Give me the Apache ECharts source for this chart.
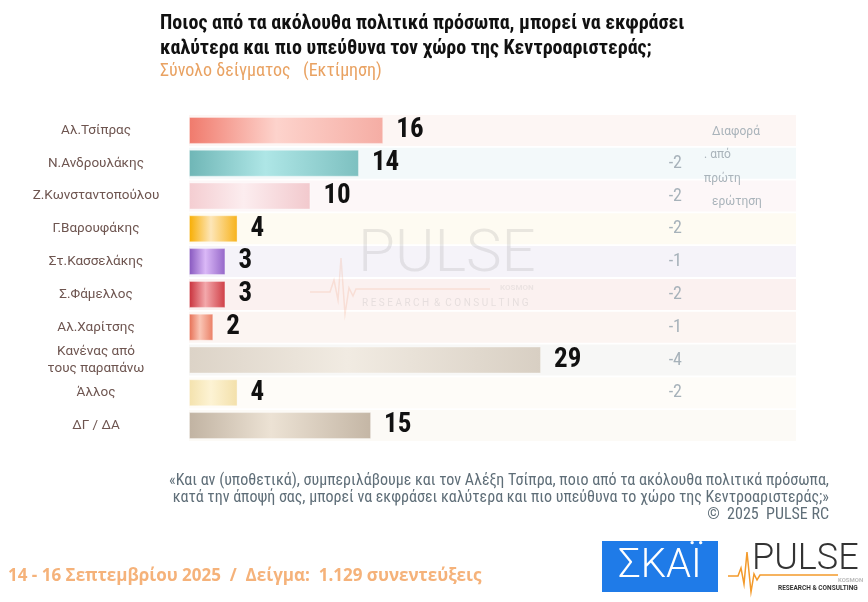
<!DOCTYPE html>
<html>
<head>
<meta charset="utf-8">
<script src="https://cdn.jsdelivr.net/npm/echarts@6/dist/echarts.min.js"></script>
<style>
  html, body { margin: 0; padding: 0; background: #fff; }
  #chart { width: 868px; height: 602px; }
</style>
</head>
<body>
<div id="chart"></div>
<script>
// δεδομένα
const categories = ['Αλ.Τσίπρας', 'Ν.Ανδρουλάκης', 'Ζ.Κωνσταντοπούλου', 'Γ.Βαρουφάκης', 'Στ.Κασσελάκης',
  'Σ.Φάμελλος', 'Αλ.Χαρίτσης', 'Κανένας από\nτους παραπάνω', 'Άλλος', 'ΔΓ / ΔΑ']
const values = [16, 14, 10, 4, 3, 3, 2, 29, 4, 15]
const diffs = ['', '-2', '-2', '-2', '-1', '-2', '-1', '-4', '-2', '']
const fullScale = [50, 50, 50, 50, 50, 50, 50, 50, 50, 50]

// χρώματα μπαρών (άκρη, κέντρο, άκρη)
const barColors = [
  ['#f07a6c', '#fdd3cc', '#f5ada4'],
  ['#6fb6b6', '#aee6e6', '#7dc0c0'],
  ['#f4cdd1', '#fcedef', '#f2c9cd'],
  ['#f8ad00', '#fde6b8', '#f7b21a'],
  ['#8656be', '#dab8f7', '#9466c8'],
  ['#c8303a', '#f3a8ab', '#cf3d45'],
  ['#e66d52', '#fac6b6', '#ea7d63'],
  ['#dcd3c7', '#f1ebe2', '#d8cfc3'],
  ['#f4e2ad', '#fdf3d4', '#f3e0aa'],
  ['#c1b3a2', '#ece2d4', '#c4b6a5']
]
const rowColors = ['#fdf6f4', '#f3f9fa', '#fdf7f8', '#fefbf2', '#f5f3f9', '#fbf1f0', '#fcf5f2', '#f7f7f6', '#fefcf8', '#fcfaf6']

const condensed = "'Liberation Sans Narrow', 'Roboto Condensed', 'DejaVu Sans Condensed', 'Roboto', sans-serif"

const barData = values.map((v, i) => ({
  value: v,
  itemStyle: {
    color: new echarts.graphic.LinearGradient(0, 0, 1, 0, [
      { offset: 0, color: barColors[i][0] },
      { offset: 0.45, color: barColors[i][1] },
      { offset: 1, color: barColors[i][2] }
    ]),
    borderColor: 'rgba(255,255,255,0.35)',
    borderWidth: 1
  }
}))

const bgData = fullScale.map((v, i) => ({
  value: v,
  itemStyle: { color: rowColors[i] }
}))

const chart = echarts.init(document.getElementById('chart'))

const wm = 'rgba(150,150,150,0.2)'

const option = {
  animation: false,
  backgroundColor: '#ffffff',
  grid: {
    left: 189,
    right: 72,
    top: 114,
    height: 328
  },
  xAxis: {
    type: 'value',
    min: 0,
    max: 50,
    show: false
  },
  yAxis: [
    {
      type: 'category',
      data: categories,
      inverse: true,
      axisLine: { show: false },
      axisTick: { show: false },
      axisLabel: {
        align: 'center',
        margin: 93,
        color: '#6e5550',
        fontFamily: 'Roboto, sans-serif',
        fontSize: 13.5,
        lineHeight: 17
      }
    },
    {
      type: 'category',
      data: categories,
      inverse: true,
      show: false
    }
  ],
  series: [
    {
      name: 'bg',
      type: 'bar',
      yAxisIndex: 1,
      barWidth: 31,
      data: bgData,
      silent: true,
      z: 1,
      label: {
        show: true,
        position: 'insideRight',
        distance: 114,
        formatter: (p) => diffs[p.dataIndex],
        color: '#a7b2ba',
        fontFamily: condensed,
        fontSize: 18
      }
    },
    {
      name: 'Εκτίμηση',
      type: 'bar',
      yAxisIndex: 0,
      barWidth: 27,
      data: barData,
      z: 3,
      label: {
        show: true,
        position: 'right',
        distance: 13,
        color: '#111111',
        fontFamily: condensed,
        fontWeight: 'bold',
        fontSize: 27
      }
    }
  ],
  graphic: [
    // τίτλος
    {
      type: 'text', left: 160, top: 11,
      style: {
        text: 'Ποιος από τα ακόλουθα πολιτικά πρόσωπα, μπορεί να εκφράσει\nκαλύτερα και πιο υπεύθυνα τον χώρο της Κεντροαριστεράς;',
        fill: '#111111', font: 'bold 20px ' + condensed, lineHeight: 25
      }
    },
    {
      type: 'text', left: 160, top: 62,
      style: {
        text: 'Σύνολο δείγματος   (Εκτίμηση)',
        fill: '#e9a262', font: '18px ' + condensed
      }
    },
    // Διαφορά
    { type: 'text', left: 712, top: 126, z: 10, style: { text: 'Διαφορά', fill: '#a9b3ba', font: '12px Roboto, sans-serif' } },
    { type: 'text', left: 704, top: 149, z: 10, style: { text: '. από', fill: '#a9b3ba', font: '12px Roboto, sans-serif' } },
    { type: 'text', left: 704, top: 173, z: 10, style: { text: 'πρώτη', fill: '#a9b3ba', font: '12px Roboto, sans-serif' } },
    { type: 'text', left: 712, top: 196, z: 10, style: { text: 'ερώτηση', fill: '#a9b3ba', font: '12px Roboto, sans-serif' } },
    // υδατογράφημα
    { type: 'text', x: 358, y: 226, z: 100, silent: true, style: { text: 'PULSE', fill: wm, font: '300 60px Roboto, sans-serif' } },
    { type: 'text', x: 362, y: 298, z: 100, silent: true, style: { text: 'R E S E A R C H  &  C O N S U L T I N G', fill: wm, font: '10px Roboto, sans-serif' } },
    { type: 'text', x: 500, y: 284, z: 100, silent: true, style: { text: 'KOSMON', fill: 'rgba(150,150,150,0.15)', font: 'bold 8px Roboto, sans-serif' } },
    {
      type: 'polyline', z: 100, silent: true,
      shape: { points: [[310, 292], [330, 292], [334, 280], [338, 300], [341, 258], [345, 314], [349, 288], [353, 296], [356, 289], [490, 289]] },
      style: { stroke: 'rgba(240,150,110,0.2)', lineWidth: 1.5, fill: null }
    },
    // υποσημείωση
    {
      type: 'text', x: 829, y: 472,
      style: {
        text: '«Και αν (υποθετικά), συμπεριλάβουμε και τον Αλέξη Τσίπρα, ποιο από τα ακόλουθα πολιτικά πρόσωπα,\nκατά την άποψή σας, μπορεί να εκφράσει καλύτερα και πιο υπεύθυνα το χώρο της Κεντροαριστεράς;»\n©  2025  PULSE RC',
        fill: '#5f6e78', font: '16px ' + condensed, lineHeight: 17, align: 'right'
      }
    },
    {
      type: 'text', left: 8, top: 568,
      style: {
        text: '14 - 16 Σεπτεμβρίου 2025  /  Δείγμα:  1.129 συνεντεύξεις',
        fill: '#f5b27a', font: 'bold 17px "Open Sans", sans-serif'
      }
    },
    // λογότυπο ΣΚΑΪ
    { type: 'rect', shape: { x: 602, y: 541, width: 116, height: 51 }, style: { fill: '#1f7be8' } },
    { type: 'text', x: 660, y: 567, style: { text: 'ΣΚΑΪ', fill: '#ffffff', font: '300 40px Roboto, sans-serif', align: 'center', verticalAlign: 'middle' } },
    // λογότυπο PULSE
    { type: 'text', x: 752, y: 542, style: { text: 'PULSE', fill: '#333333', font: '300 36px Roboto, sans-serif' } },
    { type: 'text', x: 838, y: 577, style: { text: 'KOSMON', fill: '#bbbbbb', font: 'bold 6px Roboto, sans-serif' } },
    { type: 'text', x: 778, y: 585, style: { text: 'RESEARCH & CONSULTING', fill: '#333333', font: 'bold 6.5px Roboto, sans-serif' } },
    {
      type: 'polyline',
      shape: { points: [[728, 576], [738, 576], [741, 568], [744, 584], [747, 552], [751, 592], [754, 574], [757, 580], [760, 575], [838, 575]] },
      style: { stroke: '#f39a2b', lineWidth: 1.5, fill: null }
    }
  ]
}

chart.setOption(option)
window.addEventListener('resize', function () {
  chart.resize()
})
</script>
</body>
</html>
